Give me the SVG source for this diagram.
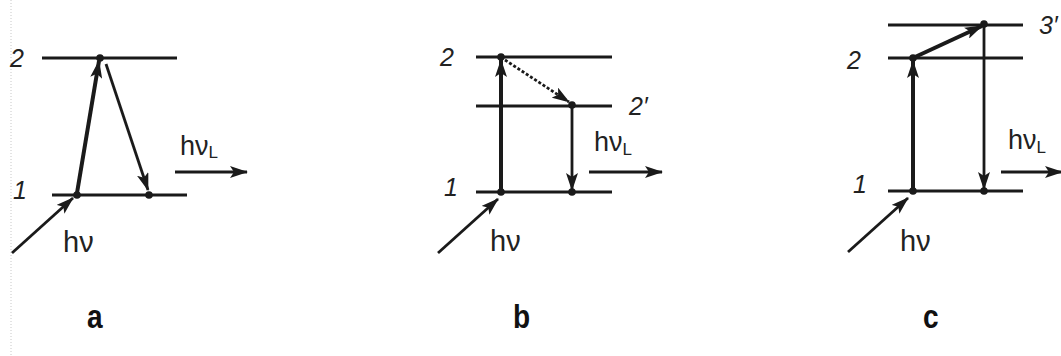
<svg xmlns="http://www.w3.org/2000/svg" width="1061" height="356" viewBox="0 0 1061 356">
<defs>
<style>
.lvl{stroke:#1a1a1a;stroke-width:3.2;fill:none}
.arr{stroke:#1a1a1a;fill:none;stroke-width:2.8;marker-end:url(#ah)}
.thick{stroke-width:4}
.dot{fill:#1a1a1a}
.num{font-family:"Liberation Sans",Arial,sans-serif;font-style:italic;font-size:25px;fill:#222}
.hv{font-family:"Liberation Sans",Arial,sans-serif;font-size:29px;fill:#222}
.hvl{font-family:"Liberation Sans",Arial,sans-serif;font-size:27px;fill:#222}
.sub{font-size:17px}
.cap{font-family:"Liberation Sans",Arial,sans-serif;font-weight:bold;font-size:33px;fill:#111}
</style>
<marker id="ah" markerUnits="userSpaceOnUse" markerWidth="18" markerHeight="12" refX="17" refY="6" orient="auto" viewBox="0 0 18 12">
<path d="M0,0 L18,6 L0,12 L4,6 Z" fill="#1a1a1a"/>
</marker>
</defs>
<rect width="1061" height="356" fill="#fff"/>
<line x1="11" y1="0" x2="11" y2="356" stroke="#c8c8c8" stroke-width="1" stroke-dasharray="1,2"/>

<g id="panel-a">
<g id="a-level2"><line class="lvl" x1="42" y1="58" x2="177" y2="58"/><text class="num" x="10" y="67">2</text></g>
<g id="a-level1"><line class="lvl" x1="52" y1="195" x2="187" y2="195"/><text class="num" x="13" y="199">1</text></g>
<circle class="dot" cx="100" cy="58" r="3.8"/>
<circle class="dot" cx="77" cy="195" r="3.8"/>
<circle class="dot" cx="149" cy="195" r="3.8"/>
<text class="hvl" x="180" y="155">hν<tspan class="sub" dy="3">L</tspan></text>
<text class="hv" x="63" y="252">hν</text>
<text class="cap" transform="translate(87 328) scale(0.85 1)">a</text>
</g>

<g id="panel-b">
<g id="b-level2"><line class="lvl" x1="476" y1="57" x2="612" y2="57"/><text class="num" x="440" y="66">2</text></g>
<g id="b-level2p"><line class="lvl" x1="476" y1="106" x2="612" y2="106"/><text class="num" x="629" y="115">2′</text></g>
<g id="b-level1"><line class="lvl" x1="476" y1="192" x2="612" y2="192"/><text class="num" x="444" y="196">1</text></g>
<circle class="dot" cx="501" cy="57" r="3.8"/>
<circle class="dot" cx="572" cy="105" r="3.8"/>
<circle class="dot" cx="501" cy="192" r="3.8"/>
<circle class="dot" cx="572" cy="192" r="3.8"/>
<text class="hvl" x="594" y="151">hν<tspan class="sub" dy="4">L</tspan></text>
<text class="hv" x="490" y="251">hν</text>
<text class="cap" transform="translate(513 328) scale(0.85 1)">b</text>
</g>

<g id="panel-c">
<g id="c-level3"><line class="lvl" x1="888" y1="25" x2="1023" y2="25"/><text class="num" x="1039" y="34">3′</text></g>
<g id="c-level2"><line class="lvl" x1="888" y1="58" x2="1023" y2="58"/><text class="num" x="847" y="69">2</text></g>
<g id="c-level1"><line class="lvl" x1="888" y1="191" x2="1023" y2="191"/><text class="num" x="853" y="193">1</text></g>
<circle class="dot" cx="913" cy="58" r="3.8"/>
<circle class="dot" cx="984" cy="24" r="3.8"/>
<circle class="dot" cx="913" cy="191" r="3.8"/>
<circle class="dot" cx="984" cy="191" r="3.8"/>
<text class="hvl" x="1008" y="149">hν<tspan class="sub" dy="4">L</tspan></text>
<text class="hv" x="900" y="251">hν</text>
<text class="cap" transform="translate(923 328) scale(0.85 1)">c</text>
</g>

<g id="connectors">
<line class="arr thick" x1="77" y1="193" x2="99" y2="61"/>
<line class="arr" x1="106" y1="64" x2="148" y2="190"/>
<line class="arr" x1="175" y1="172" x2="247" y2="172"/>
<line class="arr" x1="12" y1="253" x2="73" y2="198"/>

<line class="arr thick" x1="501" y1="190" x2="501" y2="60"/>
<line class="arr" x1="505" y1="60" x2="569" y2="102" stroke-dasharray="3,2" stroke-width="2.2"/>
<line class="arr" x1="572" y1="106" x2="572" y2="190"/>
<line class="arr" x1="589" y1="172" x2="662" y2="172"/>
<line class="arr" x1="438" y1="253" x2="498" y2="199"/>

<line class="arr thick" x1="913" y1="189" x2="913" y2="61"/>
<line class="arr thick" x1="915" y1="57" x2="982" y2="26"/>
<line class="arr" x1="984" y1="25" x2="984" y2="189"/>
<line class="arr" x1="1001" y1="172" x2="1062" y2="172"/>
<line class="arr" x1="848" y1="252" x2="908" y2="198"/>
</g>
</svg>
